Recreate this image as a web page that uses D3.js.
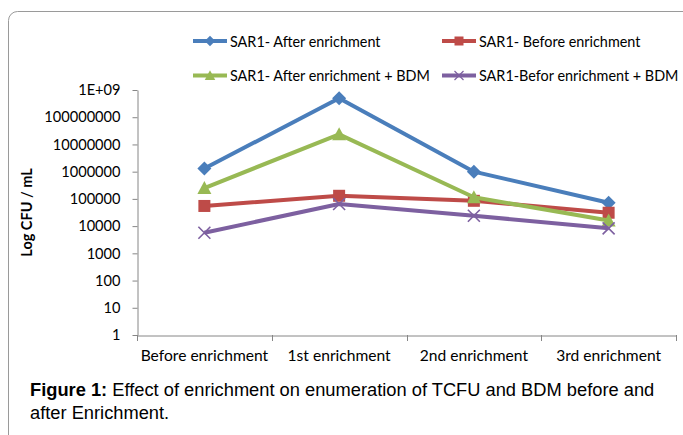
<!DOCTYPE html>
<html>
<head>
<meta charset="utf-8">
<script src="https://cdn.jsdelivr.net/npm/d3@7"></script>
<style>
  body { margin: 0; background: #fff; }
  text { font-family: Lato, "Open Sans", sans-serif; fill: #000; }
</style>
</head>
<body>
<div class="chart"></div>
<script>
// Data
var stages = ["Before enrichment", "1st enrichment", "2nd enrichment", "3rd enrichment"];
var afterEnrich = [1.3e6, 5e8, 1e6, 7.2e4];
var beforeEnrich = [5.5e4, 1.3e5, 8.5e4, 3.1e4];
var afterEnrichBDM = [2.5e5, 2.35e7, 1.15e5, 1.6e4];
var beforeEnrichBDM = [5.7e3, 6.5e4, 2.4e4, 8.3e3];
var yTicks = [1, 10, 100, 1000, 10000, 100000, 1000000, 10000000, 100000000, 1000000000];

var series = [
  { name: "SAR1- After enrichment", values: afterEnrich, color: "#4a7ebb", marker: "diamond" },
  { name: "SAR1- Before enrichment", values: beforeEnrich, color: "#be4b48", marker: "square" },
  { name: "SAR1- After enrichment + BDM", values: afterEnrichBDM, color: "#98b954", marker: "triangle" },
  { name: "SAR1-Befor enrichment + BDM", values: beforeEnrichBDM, color: "#7d60a0", marker: "cross" }
];

var svgWidth = 683;
var svgHeight = 435;

var svg = d3.select(".chart")
  .append("svg")
  .attr("width", svgWidth)
  .attr("height", svgHeight);

// outer frame
svg.append("rect")
  .attr("x", 8.5)
  .attr("y", 11.5)
  .attr("width", 720)
  .attr("height", 460)
  .attr("rx", 9)
  .attr("fill", "none")
  .attr("stroke", "#9a9a9a")
  .attr("stroke-width", 1);

var plot = { left: 137, right: 676, top: 90, bottom: 335 };

var x = d3.scaleBand()
  .domain(stages)
  .range([plot.left, plot.right]);

var y = d3.scaleLog()
  .domain([1, 1e9])
  .range([plot.bottom, plot.top]);

// y axis
var leftAxis = d3.axisLeft(y)
  .tickValues(yTicks)
  .tickFormat(d => d === 1e9 ? "1E+09" : String(d))
  .tickSizeInner(5)
  .tickSizeOuter(0)
  .tickPadding(12);

var yAxisG = svg.append("g")
  .attr("transform", `translate(${plot.left + 0.5}, 0)`)
  .call(leftAxis);
yAxisG.selectAll("path, line").attr("stroke", "#868686");
yAxisG.selectAll("text")
  .style("font-size", "14.6px")
  .style("font-family", "Lato, sans-serif");

// x axis (ticks on category boundaries)
var bottomAxis = d3.axisBottom(x).tickSize(0).tickPadding(14);
var xAxisG = svg.append("g")
  .attr("transform", `translate(0, ${plot.bottom + 0.5})`)
  .call(bottomAxis);
xAxisG.select("path").attr("stroke", "#868686");
xAxisG.selectAll("text")
  .style("font-size", "15.6px")
  .style("font-family", "Lato, sans-serif");

var bounds = stages.map(d => x(d)).concat([plot.right]);
svg.append("g").selectAll("line")
  .data(bounds)
  .enter()
  .append("line")
  .attr("x1", d => Math.round(d) + 0.5)
  .attr("x2", d => Math.round(d) + 0.5)
  .attr("y1", plot.bottom)
  .attr("y2", plot.bottom + 6)
  .attr("stroke", "#868686");

// y axis title
svg.append("text")
  .attr("transform", `translate(32, ${(plot.top + plot.bottom) / 2}) rotate(-90)`)
  .attr("text-anchor", "middle")
  .style("font-size", "14.5px")
  .style("font-weight", "bold")
  .text("Log CFU / mL");

function drawMarker(g, type, color, cx, cy) {
  if (type === "diamond") {
    g.append("path")
      .attr("d", `M${cx},${cy - 7}L${cx + 7},${cy}L${cx},${cy + 7}L${cx - 7},${cy}Z`)
      .attr("fill", color);
  } else if (type === "square") {
    g.append("rect")
      .attr("x", cx - 6).attr("y", cy - 6)
      .attr("width", 12).attr("height", 12)
      .attr("fill", color);
  } else if (type === "triangle") {
    g.append("path")
      .attr("d", `M${cx},${cy - 7}L${cx + 7},${cy + 6}L${cx - 7},${cy + 6}Z`)
      .attr("fill", color);
  } else {
    g.append("path")
      .attr("d", `M${cx - 6},${cy - 6}L${cx + 6},${cy + 6}M${cx + 6},${cy - 6}L${cx - 6},${cy + 6}`)
      .attr("stroke", color)
      .attr("stroke-width", 1.6)
      .attr("fill", "none");
  }
}

var line = d3.line()
  .x((d, i) => x(stages[i]) + x.bandwidth() / 2)
  .y(d => y(d));

// draw series
series.forEach(function(s) {
  var g = svg.append("g");
  g.append("path")
    .datum(s.values)
    .attr("d", line)
    .attr("fill", "none")
    .attr("stroke", s.color)
    .attr("stroke-width", 4)
    .attr("stroke-linejoin", "round");
  s.values.forEach(function(v, i) {
    drawMarker(g, s.marker, s.color, x(stages[i]) + x.bandwidth() / 2, y(v));
  });
});

// legend
var legendPos = [
  { x: 193, y: 41 }, { x: 442, y: 41 },
  { x: 193, y: 75.5 }, { x: 442, y: 75.5 }
];
series.forEach(function(s, i) {
  var p = legendPos[i];
  var g = svg.append("g").attr("transform", `translate(${p.x}, ${p.y})`);
  g.append("line")
    .attr("x1", 0).attr("x2", 34)
    .attr("y1", 0).attr("y2", 0)
    .attr("stroke", s.color)
    .attr("stroke-width", 4);
  var mg = g.append("g").attr("transform", "translate(17,0) scale(0.75)");
  drawMarker(mg, s.marker, s.color, 0, 0);
  g.append("text")
    .attr("x", 37)
    .attr("y", 5.5)
    .style("font-size", "14.4px")
    .text(s.name);
});

// caption
var caption = svg.append("text")
  .attr("x", 30)
  .attr("y", 396)
  .style("font-family", "'Liberation Sans', Arial, sans-serif")
  .style("font-size", "18.3px");
caption.append("tspan").style("font-weight", "bold").text("Figure 1:");
caption.append("tspan").text(" Effect of enrichment on enumeration of TCFU and BDM before and");
svg.append("text")
  .attr("x", 30)
  .attr("y", 419)
  .style("font-family", "'Liberation Sans', Arial, sans-serif")
  .style("font-size", "18.3px")
  .text("after Enrichment.");
</script>
</body>
</html>
